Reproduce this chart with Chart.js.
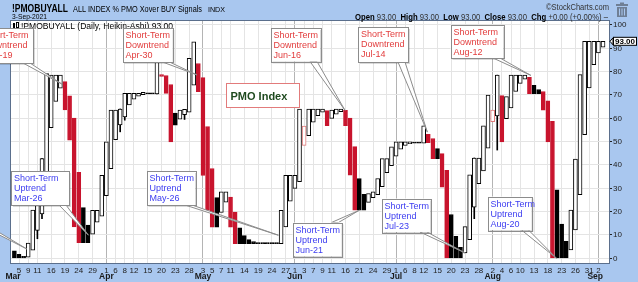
<!DOCTYPE html>
<html lang="en">
<head>
<meta charset="UTF-8">
<title>!PMOBUYALL - Heikin-Ashi</title>
<script src="https://cdn.jsdelivr.net/npm/chart.js"></script>
<style>
  html, body { margin: 0; padding: 0; background: #a9c7ef; }
</style>
</head>
<body>
<canvas id="pmo" width="638" height="282"></canvas>
<script>
// trading day index: 0 = Mar 5 2021, first candle is Mar 4 (-1)
const firstDay = -1;
const haOpen = [
  3.2, 1.7, 0.9, 0.5, 3.5, 12, 19, 31, 56, 67.2, 72.9,
  75.7, 69.6, 60.1, 36.8, 21.7, 14.2, 10.4, 15.5, 18.1, 26.8,
  38.4, 50.9, 57.2, 60.6, 65.7, 68.2, 69.5, 70.1, 70.6, 70.55,
  70.5, 78.7, 78.35, 74.5, 62.2, 59.6, 61.6, 62.6, 74.2, 83.5,
  77.45, 56.5, 38.5, 26, 19.7, 24.1, 26.3, 19.85, 13.1, 9.7,
  8, 7.15, 6.7, 6.5, 6.4, 6.35, 6.33, 6.3, 13.45, 24.5,
  30, 32.8, 48.4, 52.55, 58.3, 61.1, 62.6, 63.3, 60, 61.8,
  62.9, 63.45, 60.1, 47.9, 34.2, 27.4, 24, 26, 27.25, 30.7,
  36.7, 39.7, 43.75, 46.8, 48.35, 49.1, 49.5, 49.45, 49.4, 53.1,
  51.35, 47, 44.85, 37.7, 18.8, 9.4, 4.7, 2.35, 8, 21.9,
  32, 37.5, 47.2, 58.6, 61, 69.75, 59.8, 64.5, 71.5, 75,
  76.75, 77.6, 74.1, 72.35, 71.5, 67.5, 58.7, 29.35, 14.7, 7.3,
  3.6, 12.2, 27.3, 53, 73, 83, 88, 90.5
];
const haClose = [
  0.2, 0.2, 0.2, 6.5, 20.7, 23, 42.7, 79.2, 78.5, 78.5, 78.5,
  63.6, 50.6, 13.5, 6.7, 6.7, 6.7, 20.6, 20.6, 35.6, 49.9,
  63.5, 63.5, 64, 70.7, 70.7, 70.7, 70.7, 71.1, 70.5, 70.45,
  87, 78, 70.7, 49.9, 57.1, 63.5, 63.8, 85.7, 92.8, 71.4,
  35.5, 20.5, 13.4, 13.4, 28.5, 28.5, 13.4, 6.3, 6.3, 6.3,
  6.3, 6.3, 6.3, 6.3, 6.3, 6.3, 6.3, 20.6, 35.6, 35.6,
  35.6, 64, 56.7, 64, 64, 64, 64, 56.8, 63.5, 64,
  64, 56.8, 35.6, 20.6, 20.6, 20.6, 27.8, 28.5, 34.2, 42.7,
  42.7, 47.8, 49.9, 49.9, 49.9, 49.9, 49.4, 49.4, 56.8, 49.6,
  42.7, 42.7, 30.5, 0, 0, 0, 0, 13.6, 35.8, 43,
  43, 56.8, 70, 63.5, 78.5, 49.9, 69.3, 78.5, 78.5, 78.5,
  78.5, 70.6, 70.6, 70.6, 63.5, 49.9, 0, 0, 0, 0,
  20.7, 42.5, 78.7, 93, 93, 93, 93, 93
];
// direction of the underlying daily close (1 = up, -1 = down)
const closeDir = [
  1, 1, 1, 1, 1, 1, 1, 1, 1, 1, 1,
  -1, -1, -1, -1, 1, 1, 1, 1, 1, 1,
  1, 1, 1, 1, 1, 1, 1, 1, 1, 1,
  1, -1, -1, -1, 1, 1, 1, 1, 1, -1,
  -1, -1, -1, 1, 1, 1, -1, -1, 1, 1,
  1, 1, 1, 1, 1, 1, 1, 1, 1, 1,
  1, 1, -1, 1, 1, 1, 1, -1, 1, 1,
  1, -1, -1, -1, 1, 1, 1, 1, 1, 1,
  1, 1, 1, 1, 1, 1, 1, 1, 1, -1,
  -1, 1, -1, -1, 1, 1, 1, 1, 1, 1,
  1, 1, 1, -1, 1, -1, 1, 1, 1, 1,
  1, -1, 1, 1, -1, -1, -1, 1, 1, 1,
  1, 1, 1, 1, 1, 1, 1, 1
];
const wickDay  = [4, 5, 22, 23, 30, 36, 99, 104];
const wickLow  = [8.4, 17, 54.2, 59.2, 70.5, 59.5, 17, 46.4];
const wickHigh = [23, 42.7, 64, 70.7, 92, 63.8, 43, 78.5];

const tickDay = [0, 2, 4, 7, 10, 13, 16, 19, 21, 23, 25, 28, 31, 34, 37,
  40, 42, 44, 46, 49, 52, 55, 58, 60, 62, 64, 66, 68, 71, 74, 77, 80,
  82, 84, 86, 88, 91, 94, 97, 100, 103, 105, 107, 109, 112, 115, 118, 121, 124, 126];
const tickText = ['5', '9', '11', '16', '19', '24', '29', '1', '6', '8', '12', '15', '20', '23', '28',
  '3', '5', '7', '11', '14', '19', '24', '27', '1', '3', '7', '9', '11', '16', '21', '24', '29',
  '1', '6', '8', '12', '15', '20', '23', '28', '2', '4', '6', '10', '13', '18', '23', '26', '31', '2'];
const monthStart = [19, 40, 60, 82, 103, 126];
const monthDay = [-1.3, 19, 40, 60, 82, 103, 125.3];
const monthText = ['Mar', 'Apr', 'May', 'Jun', 'Jul', 'Aug', 'Sep'];
const lastValue = 93.00;

const FONT = '"Liberation Sans", Arial, sans-serif';
const RED = '#c8142d';
const DOWN_TXT = '#e23c3c';
const UP_TXT = '#3c3cf0';

// callouts: box in pixels, tip in chart values (day, value)
const callouts = [
  { lines: ['Short-Term', 'Downtrend', 'Mar-19'], col: DOWN_TXT, x: -19, y: 28, w: 52, h: 35, side: 'bottom', day: 9.3, val: 74.7 },
  { lines: ['Short-Term', 'Downtrend', 'Apr-30'], col: DOWN_TXT, x: 122.5, y: 28, w: 50, h: 34, side: 'bottom', day: 38.7, val: 78.6 },
  { lines: ['Short-Term', 'Downtrend', 'Jun-16'], col: DOWN_TXT, x: 270.5, y: 28, w: 49.5, h: 33.5, side: 'bottom', day: 70.9, val: 63.4 },
  { lines: ['Short-Term', 'Downtrend', 'Jul-14'], col: DOWN_TXT, x: 358, y: 27, w: 50, h: 35, side: 'bottom', day: 88.8, val: 54.1 },
  { lines: ['Short-Term', 'Downtrend', 'Aug-12'], col: DOWN_TXT, x: 450.5, y: 25, w: 52.5, h: 33, side: 'bottom', day: 111.3, val: 78.4 },
  { lines: ['Short-Term', 'Uptrend', 'Mar-04'], col: UP_TXT, x: -62, y: 190, w: 50, h: 34, side: 'bottom', day: 1.7, val: 4 },
  { lines: ['Short-Term', 'Uptrend', 'Mar-26'], col: UP_TXT, x: 11, y: 171, w: 58, h: 34, side: 'bottom', day: 15.1, val: 9.9 },
  { lines: ['Short-Term', 'Uptrend', 'May-26'], col: UP_TXT, x: 146.5, y: 171, w: 48.5, h: 34, side: 'bottom', day: 56.4, val: 9.9 },
  { lines: ['Short-Term', 'Uptrend', 'Jun-21'], col: UP_TXT, x: 292.5, y: 222.5, w: 49, h: 33.5, side: 'top', day: 74.0, val: 20.6 },
  { lines: ['Short-Term', 'Uptrend', 'Jul-23'], col: UP_TXT, x: 381.5, y: 198.5, w: 48.5, h: 33.5, side: 'bottom', day: 97, val: 2.3 },
  { lines: ['Short-Term', 'Uptrend', 'Aug-20'], col: UP_TXT, x: 487.5, y: 196.5, w: 44, h: 33.5, side: 'bottom', day: 116.9, val: 0 }
];

const days = haOpen.map((_, k) => firstDay + k);
const bodies = days.map((d, k) => ({ x: d, y: [haOpen[k], haClose[k]] }));
const filled = days.map((_, k) => haClose[k] < haOpen[k]);
const bodyFill = days.map((_, k) => filled[k] ? (closeDir[k] < 0 ? RED : '#000') : '#fff');
const bodyEdge = days.map((_, k) => closeDir[k] < 0 ? (filled[k] ? RED : '#e07a7a') : '#000');

function drawCallout(ctx, c, tx, ty) {
  const right = c.x + c.w;
  const edge = c.side === 'top' ? c.y : c.y + c.h;
  ctx.save();
  ctx.fillStyle = 'rgba(0,0,0,0.15)';
  ctx.fillRect(c.x + 2, c.y + 2, c.w, c.h);
  ctx.beginPath();
  ctx.moveTo(right - 10, edge);
  ctx.lineTo(tx, ty);
  ctx.lineTo(right - 3, edge);
  ctx.closePath();
  ctx.fillStyle = '#fff';
  ctx.fill();
  ctx.strokeStyle = '#8c8c8c';
  ctx.lineWidth = 1;
  ctx.stroke();
  ctx.fillStyle = '#fff';
  ctx.fillRect(c.x, c.y, c.w, c.h);
  ctx.strokeRect(Math.round(c.x) + 0.5, Math.round(c.y) + 0.5, Math.round(c.w), Math.round(c.h));
  ctx.fillStyle = c.col;
  ctx.font = '9px ' + FONT;
  ctx.textBaseline = 'alphabetic';
  c.lines.forEach((t, j) => ctx.fillText(t, c.x + 3, c.y + 10 + j * 10));
  ctx.restore();
}

// write pieces of text one after another, squeezed to a given width
function fitRun(ctx, x, y, width, parts) {
  let total = 0;
  parts.forEach(p => { ctx.font = p.font; total += ctx.measureText(p.text).width; });
  ctx.save();
  ctx.translate(x, y);
  ctx.scale(width / total, 1);
  let px = 0;
  parts.forEach(p => {
    ctx.font = p.font;
    ctx.fillStyle = p.color || '#000';
    ctx.fillText(p.text, px, p.dy || 0);
    px += ctx.measureText(p.text).width;
  });
  ctx.restore();
}

const framePlugin = {
  id: 'frame',
  beforeDraw(chart) {
    const { ctx, chartArea: a } = chart;
    ctx.save();
    ctx.fillStyle = '#a9c7ef';
    ctx.fillRect(0, 0, chart.width, chart.height);
    ctx.fillStyle = '#fff';
    ctx.fillRect(a.left, a.top, a.right - a.left, a.bottom - a.top);
    ctx.restore();
  },
  afterDraw(chart) {
    const { ctx, chartArea: a } = chart;
    const xs = chart.scales.x, ys = chart.scales.y;
    ctx.save();
    // plot border
    ctx.strokeStyle = '#5b6f8c';
    ctx.lineWidth = 1;
    ctx.strokeRect(a.left - 0.5, a.top - 0.5, a.right - a.left + 1, a.bottom - a.top + 1);

    // header
    ctx.textBaseline = 'alphabetic';
    fitRun(ctx, 12, 12, 56, [{ text: '!PMOBUYALL', font: 'bold 11px ' + FONT }]);
    fitRun(ctx, 73, 12, 129, [{ text: 'ALL INDEX % PMO Xover BUY Signals', font: '9.5px ' + FONT }]);
    fitRun(ctx, 208, 11.5, 17, [{ text: 'INDX', font: '7.5px ' + FONT }]);
    fitRun(ctx, 12, 19, 35, [{ text: '3-Sep-2021', font: '8px ' + FONT }]);
    fitRun(ctx, 546, 10, 63, [{ text: '\u00a9StockCharts.com', font: '8.5px ' + FONT, color: '#333' }]);
    const B = 'bold 8.5px ' + FONT, N = '8.5px ' + FONT;
    fitRun(ctx, 355, 19.5, 253, [
      { text: 'Open', font: B }, { text: ' 93.00  ', font: N, color: '#333' },
      { text: 'High', font: B }, { text: ' 93.00  ', font: N, color: '#333' },
      { text: 'Low', font: B }, { text: ' 93.00  ', font: N, color: '#333' },
      { text: 'Close', font: B }, { text: ' 93.00  ', font: N, color: '#333' },
      { text: 'Chg', font: B }, { text: ' +0.00 (+0.00%) \u2013', font: N, color: '#333' }
    ]);
    // trash icon
    ctx.fillStyle = '#6f7f95';
    ctx.fillRect(616, 4, 12, 2);
    ctx.fillRect(620, 2.5, 4, 1.5);
    ctx.fillRect(617, 7, 10, 10);
    ctx.fillStyle = '#a9c7ef';
    ctx.fillRect(619, 8.5, 1, 7);
    ctx.fillRect(621.5, 8.5, 1, 7);
    ctx.fillRect(624, 8.5, 1, 7);

    // legend inside plot
    ctx.fillStyle = '#000';
    ctx.fillRect(13, 23, 2, 5);
    ctx.strokeStyle = '#000';
    ctx.strokeRect(16.5, 22.5, 2, 5);
    fitRun(ctx, 21, 28.5, 152, [{ text: '!PMOBUYALL (Daily, Heikin-Ashi) 93.00', font: '8.5px ' + FONT }]);

    // month labels
    ctx.font = 'bold 8.5px ' + FONT;
    ctx.textAlign = 'center';
    ctx.fillStyle = '#1a1a1a';
    monthDay.forEach((d, j) => ctx.fillText(monthText[j], xs.getPixelForValue(d), 279));

    // last value tag
    const ly = ys.getPixelForValue(lastValue);
    ctx.fillStyle = '#fff';
    ctx.strokeStyle = '#000';
    ctx.beginPath();
    ctx.moveTo(a.right + 1, ly);
    ctx.lineTo(a.right + 4, ly - 3.5);
    ctx.lineTo(a.right + 4, ly + 3.5);
    ctx.closePath();
    ctx.fill();
    ctx.stroke();
    ctx.fillRect(a.right + 4.5, ly - 4, 23, 8);
    ctx.strokeRect(a.right + 4.5, ly - 4, 23, 8);
    ctx.fillStyle = '#000';
    ctx.font = 'bold 8px ' + FONT;
    ctx.textBaseline = 'middle';
    ctx.fillText(lastValue.toFixed(2), a.right + 16, ly + 0.5);

    // PMO Index label
    ctx.fillStyle = '#fff';
    ctx.fillRect(226.5, 83.5, 73, 24);
    ctx.strokeStyle = '#e27b7b';
    ctx.strokeRect(226.5, 83.5, 73, 24);
    ctx.fillStyle = '#1f4a1f';
    ctx.font = 'bold 11px ' + FONT;
    ctx.textAlign = 'left';
    ctx.textBaseline = 'alphabetic';
    ctx.fillText('PMO Index', 230.5, 99.5);
    ctx.restore();

    callouts.forEach(c => drawCallout(ctx, c, xs.getPixelForValue(c.day), ys.getPixelForValue(c.val)));
  }
};

new Chart(document.getElementById('pmo'), {
  type: 'bar',
  data: {
    datasets: [
      {
        label: 'wick',
        data: wickDay.map((d, j) => ({ x: d, y: [wickLow[j], wickHigh[j]] })),
        backgroundColor: '#000',
        barThickness: 1,
        grouped: false,
        order: 2
      },
      {
        label: '!PMOBUYALL',
        data: bodies,
        backgroundColor: bodyFill,
        borderColor: bodyEdge,
        borderWidth: 1,
        borderSkipped: false,
        barThickness: 4,
        minBarLength: 1,
        grouped: false,
        order: 1
      }
    ]
  },
  options: {
    responsive: false,
    animation: false,
    devicePixelRatio: 1,
    layout: { padding: { top: 21, left: 11, right: 0, bottom: 0 } },
    plugins: { legend: { display: false }, tooltip: { enabled: false } },
    scales: {
      x: {
        type: 'linear',
        offset: false,
        min: -1.74,
        max: 128.3,
        afterBuildTicks: s => { s.ticks = tickDay.map(v => ({ value: v })); },
        afterFit: s => { s.height = 19; },
        border: { display: false },
        grid: {
          offset: false,
          drawTicks: false,
          color: c => monthStart.includes(c.tick && c.tick.value) ? '#b4b4b4' : '#e4e4e4'
        },
        ticks: {
          autoSkip: false,
          maxRotation: 0,
          padding: 3,
          color: '#222',
          font: { family: FONT, size: 8 },
          callback: v => tickText[tickDay.indexOf(v)]
        }
      },
      y: {
        position: 'right',
        min: -2.0,
        max: 101.7,
        afterFit: s => { s.width = 29; },
        border: { display: false },
        grid: { color: '#e4e4e4', tickColor: '#222', tickLength: 3 },
        ticks: {
          stepSize: 5,
          includeBounds: false,
          padding: 1,
          color: '#222',
          font: { family: FONT, size: 8 }
        }
      }
    }
  },
  plugins: [framePlugin]
});
</script>
</body>
</html>
